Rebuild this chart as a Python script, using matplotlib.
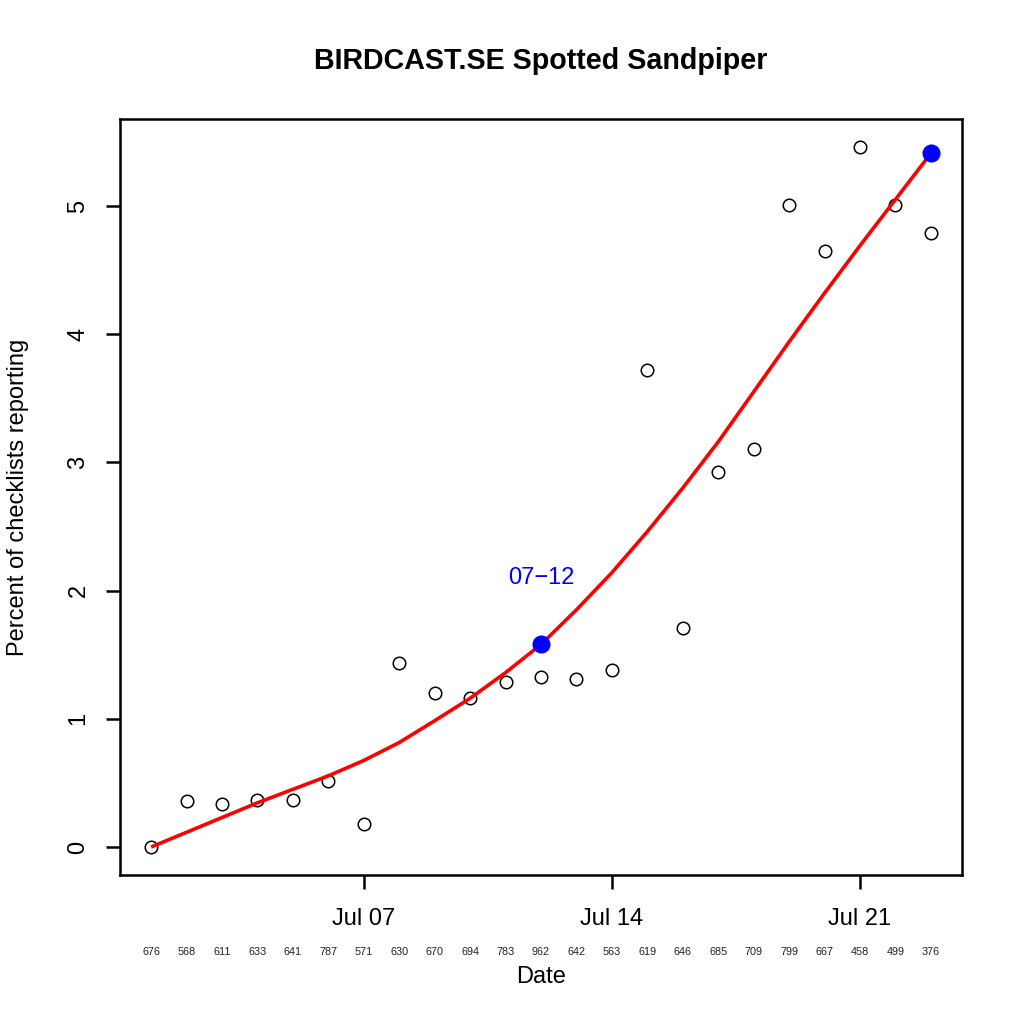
import matplotlib
matplotlib.use("Agg")
import matplotlib.pyplot as plt
import matplotlib.transforms as mtransforms

plt.rcParams['font.family'] = ['Liberation Sans', 'DejaVu Sans']

# Day of July for each observation
days = [1, 2, 3, 4, 5, 6, 7, 8, 9, 10, 11, 12, 13, 14, 15, 16, 17, 18, 19, 20, 21, 22, 23]
# Percent of checklists reporting (observed)
observed = [0.0, 0.36, 0.335, 0.365, 0.365, 0.515, 0.18, 1.435, 1.20, 1.16, 1.285, 1.325,
            1.31, 1.38, 3.72, 1.71, 2.925, 3.105, 5.01, 4.65, 5.46, 5.01, 4.79]
# Smoothed trend
smoothed = [0.0, 0.115, 0.23, 0.345, 0.45, 0.555, 0.675, 0.815, 0.985, 1.16, 1.36, 1.58,
            1.85, 2.14, 2.46, 2.80, 3.16, 3.55, 3.94, 4.32, 4.69, 5.05, 5.41]
# Number of checklists per day
checklists = [676, 568, 611, 633, 641, 787, 571, 630, 670, 694, 783, 962,
              642, 563, 619, 646, 685, 709, 799, 667, 458, 499, 376]

highlight_days = [12, 23]
highlight_vals = [1.58, 5.41]
highlight_label = "07\u221212"

tick_days = [7, 14, 21]
tick_labels = ["Jul 07", "Jul 14", "Jul 21"]
y_ticks = [0, 1, 2, 3, 4, 5]

fig = plt.figure(figsize=(10.24, 10.24), dpi=100)
ax = fig.add_axes([120 / 1024, 149 / 1024, 842 / 1024, 756 / 1024])

ax.plot(days, observed, linestyle='none', marker='o', markersize=9,
        markerfacecolor='none', markeredgecolor='black', markeredgewidth=1.1)
ax.plot(days, smoothed, color='red', linewidth=2.6, solid_capstyle='butt')
ax.plot(highlight_days, highlight_vals, linestyle='none', marker='o', markersize=12,
        color='blue')
ax.text(highlight_days[0], highlight_vals[0] + 0.52, highlight_label, color='blue',
        fontsize=17, ha='center', va='center')

pad_x = (days[-1] - days[0]) * 0.04
ax.set_xlim(days[0] - pad_x, days[-1] + pad_x)
y_max = max(observed)
ax.set_ylim(-0.04 * y_max, y_max * 1.04)

ax.set_xticks(tick_days)
ax.set_xticklabels(tick_labels)
ax.set_yticks(y_ticks)
ax.set_yticklabels([str(v) for v in y_ticks], rotation=90, va='center')
ax.tick_params(axis='both', length=10, width=1.8, labelsize=17, direction='out')
ax.tick_params(axis='x', pad=14)
ax.tick_params(axis='y', pad=12)
for spine in ax.spines.values():
    spine.set_linewidth(1.8)

# checklist counts under the axis
trans = mtransforms.blended_transform_factory(ax.transData, ax.transAxes)
for d, n in zip(days, checklists):
    ax.text(d, -0.102, str(n), transform=trans, fontsize=7.8, ha='center', va='center',
            color='#222222')

fig.text(541 / 1024, 1 - 61 / 1024, "BIRDCAST.SE Spotted Sandpiper", fontsize=20.6,
         fontweight='bold', ha='center', va='center')
fig.text(541 / 1024, 1 - 977 / 1024, "Date", fontsize=17, ha='center', va='center')
fig.text(18 / 1024, 1 - 497 / 1024, "Percent of checklists reporting", fontsize=17,
         rotation=90, ha='center', va='center')

fig.savefig("out.png", dpi=100)
plt.close(fig)
